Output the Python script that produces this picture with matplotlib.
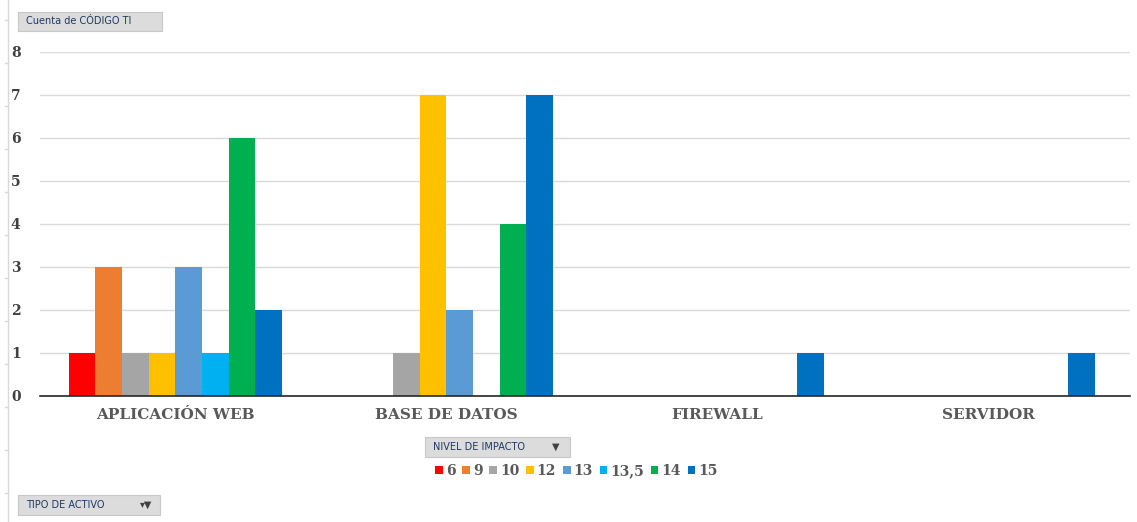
import numpy as np
import matplotlib.pyplot as plt
from matplotlib.patches import Rectangle
from matplotlib.lines import Line2D

categories = ["APLICACIÓN WEB", "BASE DE DATOS", "FIREWALL", "SERVIDOR"]
levels = ["6", "9", "10", "12", "13", "13,5", "14", "15"]
colors = ["#FF0000", "#ED7D31", "#A5A5A5", "#FFC000", "#5B9BD5", "#00B0F0", "#00B050", "#0070C0"]

# counts per impact level, one list per level (0 = no bar)
lvl_6 = [1, 0, 0, 0]
lvl_9 = [3, 0, 0, 0]
lvl_10 = [1, 1, 0, 0]
lvl_12 = [1, 7, 0, 0]
lvl_13 = [3, 2, 0, 0]
lvl_13_5 = [1, 0, 0, 0]
lvl_14 = [6, 4, 0, 0]
lvl_15 = [2, 7, 1, 1]
series = [lvl_6, lvl_9, lvl_10, lvl_12, lvl_13, lvl_13_5, lvl_14, lvl_15]

fig = plt.figure(figsize=(11.37, 5.22), dpi=100)
ax = fig.add_axes([0.0352, 0.2414, 0.9586, 0.659])

x = np.arange(len(categories))
n = len(series)
group = 0.788
w = group / n
for i, vals in enumerate(series):
    v = np.array(vals, dtype=float)
    xs = x - group / 2 + w * (i + 0.5)
    mask = v > 0
    ax.bar(xs[mask], v[mask], width=w, color=colors[i], label=levels[i], zorder=3)

ax.set_xlim(-0.5, 3.524)
ax.set_ylim(0, 8)
ax.set_yticks(range(0, 9))
ax.yaxis.grid(True, color="#D9D9D9", linewidth=1, zorder=0)
for s in ["top", "right", "left"]:
    ax.spines[s].set_visible(False)
ax.spines["bottom"].set_color("#262626")
ax.spines["bottom"].set_linewidth(1.2)
ax.spines["bottom"].set_zorder(4)
ax.tick_params(axis="y", length=0, pad=14, labelsize=10, labelcolor="#404040")
ax.tick_params(axis="x", length=0, pad=9, labelsize=11, labelcolor="#595959")
ax.set_xticks(x)
ax.set_xticklabels(categories, family="DejaVu Serif", fontweight="bold")
for lab in ax.get_yticklabels():
    lab.set_family("DejaVu Serif")
    lab.set_fontweight("bold")

# outer frame line on the left
fig.add_artist(Line2D([8 / 1137, 8 / 1137], [0, 1], color="#D9D9D9", lw=1))
for yy in range(20, 522, 43):
    fig.add_artist(Line2D([5 / 1137, 8 / 1137], [1 - yy / 522] * 2, color="#D9D9D9", lw=1))


def button(x0, y0, w0, h0, text, arrow=""):
    fig.add_artist(Rectangle((x0 / 1137, 1 - (y0 + h0) / 522), w0 / 1137, h0 / 522,
                             facecolor="#DCDCDC", edgecolor="#C8C8C8", lw=0.8))
    fig.text((x0 + 8) / 1137, 1 - (y0 + h0 / 2) / 522, text, fontsize=7,
             color="#1F3864", va="center", ha="left")
    if arrow:
        fig.text((x0 + w0 - 14) / 1137, 1 - (y0 + h0 / 2) / 522, arrow, fontsize=7,
                 color="#404040", va="center", ha="center")


button(18, 12, 144, 19, "Cuenta de CÓDIGO TI")
button(425, 437, 145, 20, "NIVEL DE IMPACTO", "▼")
button(18, 495, 142, 20, "TIPO DE ACTIVO", "▾▼")

leg = fig.legend(loc="center", bbox_to_anchor=(0.507, 1 - 471 / 522), ncol=8,
                 frameon=False, handlelength=0.55, handleheight=0.55, handletextpad=0.2,
                 columnspacing=0.5, prop={"family": "DejaVu Serif", "weight": "bold", "size": 10})
for t in leg.get_texts():
    t.set_color("#595959")

fig.savefig("out.png", dpi=100)
